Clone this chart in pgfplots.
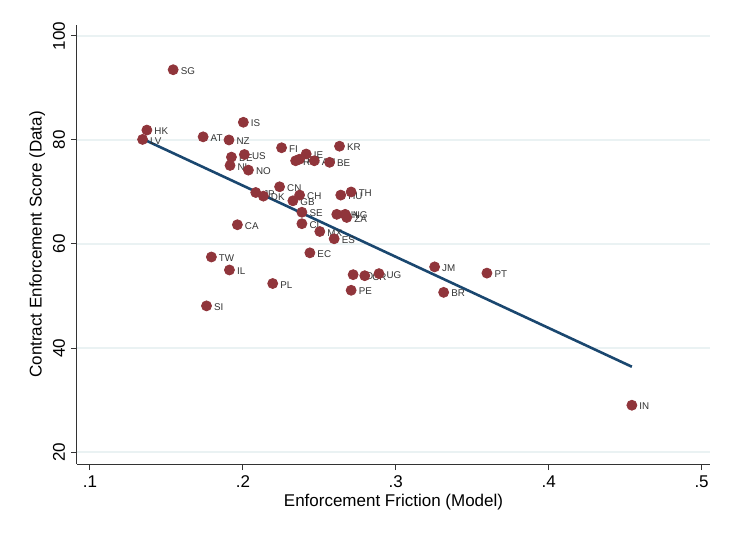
\documentclass[border=0pt]{standalone}
\usepackage{pgfplots}
\pgfplotsset{compat=1.18}
\usepackage{fontspec}
\setmainfont{Liberation Sans}

\definecolor{stcnavy}{HTML}{1A476F}
\definecolor{stccran}{HTML}{90353B}
\definecolor{gridblue}{HTML}{EAF2F3}
\definecolor{labgray}{HTML}{333333}

% country-level model friction vs. observed enforcement score
\pgfplotstableread{
x y lab
0.1544 93.5 SG
0.2003 83.4 IS
0.1372 81.9 HK
0.1344 80.1 LV
0.1740 80.6 AT
0.1909 80.0 NZ
0.2253 78.5 FI
0.2010 77.2 US
0.1925 76.7 DE
0.1916 75.1 NL
0.2036 74.2 NO
0.2632 78.8 KR
0.2345 76.0 RU
0.2370 76.3 FR
0.2414 77.3 IE
0.2467 76.0 AU
0.2567 75.7 BE
0.2240 71.0 CN
0.2084 69.9 JP
0.2134 69.2 DK
0.2371 69.4 CH
0.2327 68.3 GB
0.2708 70.0 TH
0.2640 69.4 HU
0.2386 66.1 SE
0.2614 65.7 PH
0.2669 65.7 NG
0.2679 65.1 ZA
0.1964 63.7 CA
0.2386 63.9 CL
0.2503 62.4 MX
0.2597 61.0 ES
0.2438 58.3 EC
0.1794 57.5 TW
0.1912 55.0 IL
0.2195 52.4 PL
0.1762 48.1 SI
0.2721 54.1 JO
0.2797 53.9 CR
0.2890 54.3 UG
0.2708 51.1 PE
0.3254 55.6 JM
0.3596 54.4 PT
0.3313 50.7 BR
0.4544 29.0 IN
}\countries

\begin{document}
\begin{tikzpicture}
\begin{axis}[
  scale only axis,
  width=316.5pt, height=219.5pt,
  xmin=0.0915, xmax=0.5055,
  ymin=17.7, ymax=102.1,
  axis lines=left,
  axis line style={-, black!80, line width=0.5pt},
  xtick={0.1,0.2,0.3,0.4,0.5},
  xticklabels={.1,.2,.3,.4,.5},
  ytick={20,40,60,80,100},
  tick align=outside,
  tick style={black!80, line width=0.5pt},
  major tick length=3pt,
  ymajorgrids,
  grid style={gridblue, line width=0.7pt},
  tick label style={font=\fontsize{8.5}{10}\selectfont},
  /pgf/number format/assume math mode=true,
  yticklabel style={rotate=90, anchor=south, yshift=-0.5pt},
  xticklabel style={yshift=0.5pt},
  xlabel={Enforcement Friction (Model)},
  ylabel={Contract Enforcement Score (Data)},
  label style={font=\fontsize{8.5}{10}\selectfont},
  xlabel style={yshift=4pt},
  ylabel style={yshift=-3pt},
  clip=false,
]
% country codes, placed to the right of each point
\addplot[draw=none,
  nodes near coords,
  point meta=explicit symbolic,
  nodes near coords style={anchor=west, xshift=3.6pt, yshift=-0.6pt,
    font=\fontsize{4.9}{5.5}\selectfont, text=labgray, inner sep=0pt},
] table[meta=lab] {\countries};
% fitted line
\addplot[stcnavy, line width=1.3pt] coordinates {(0.1344,80.2) (0.4544,36.4)};
% points
\addplot[stccran, only marks, mark=*, mark size=2.5pt] table[x=x, y=y] {\countries};
\end{axis}
% page frame around the plot area
\path (current axis.south west) ++(-38.5pt,-34pt) rectangle ++(364.5pt,266pt);
\end{tikzpicture}
\end{document}
